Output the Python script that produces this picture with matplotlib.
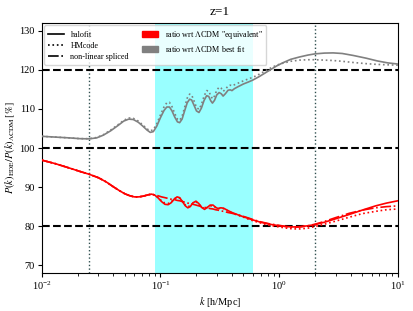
import matplotlib
matplotlib.use('Agg')
import matplotlib.pyplot as plt
from matplotlib.patches import Patch
from matplotlib.lines import Line2D
import numpy as np

# ratio wrt LCDM best fit (gray)
k_gray = [0.01, 0.013, 0.017, 0.021, 0.025, 0.029, 0.033, 0.038, 0.044, 0.049,
          0.054, 0.059, 0.065, 0.071, 0.077, 0.082, 0.087, 0.093, 0.100, 0.107,
          0.113, 0.119, 0.125, 0.132, 0.139, 0.145, 0.152, 0.160, 0.168, 0.176,
          0.183, 0.192, 0.201, 0.211, 0.221, 0.233, 0.245, 0.255, 0.265, 0.274,
          0.285, 0.298, 0.312, 0.325, 0.337, 0.352, 0.371, 0.387, 0.40, 0.42,
          0.45, 0.50, 0.55, 0.60, 0.68, 0.76, 0.85, 0.95, 1.07, 1.25,
          1.48, 1.75, 2.0, 2.4, 2.85, 3.4, 4.2, 5.4, 6.7, 8.2, 10.0]
gray_halofit = [103.0, 102.8, 102.6, 102.4, 102.35, 102.6, 103.3, 104.4, 105.8, 106.9,
                107.4, 107.3, 106.6, 105.6, 104.6, 104.0, 104.2, 105.6, 107.8, 109.6,
                110.5, 110.5, 109.5, 107.9, 106.7, 106.5, 107.4, 109.6, 111.6, 112.5,
                112.3, 110.9, 109.5, 109.1, 110.2, 112.2, 113.4, 113.2, 112.1, 111.5,
                112.2, 113.6, 114.2, 113.9, 113.3, 113.9, 114.8, 114.9, 114.7, 115.2,
                115.7, 116.4, 116.9, 117.4, 118.3, 119.2, 120.1, 121.0, 121.8, 122.7,
                123.3, 123.8, 124.1, 124.3, 124.35, 124.2, 123.7, 123.0, 122.3, 121.8, 121.5]
gray_hmcode = [103.0, 102.8, 102.6, 102.4, 102.4, 102.7, 103.4, 104.6, 106.0, 107.1,
               107.7, 107.6, 106.9, 105.9, 104.9, 104.4, 104.7, 106.2, 108.5, 110.5,
               111.6, 111.7, 110.6, 108.8, 107.4, 107.1, 108.1, 110.5, 112.8, 113.8,
               113.6, 112.0, 110.4, 109.9, 111.1, 113.3, 114.7, 114.6, 113.4, 112.6,
               113.3, 114.8, 115.6, 115.3, 114.5, 115.0, 115.9, 116.1, 115.9, 116.2,
               116.6, 117.2, 117.7, 118.1, 118.9, 119.7, 120.5, 121.2, 121.7, 122.2,
               122.5, 122.6, 122.6, 122.5, 122.4, 122.2, 121.9, 121.6, 121.4, 121.3, 121.2]

# ratio wrt LCDM "equivalent" (red)
k_red = [0.01, 0.013, 0.017, 0.021, 0.025, 0.030, 0.035, 0.040, 0.045, 0.050,
         0.055, 0.060, 0.066, 0.072, 0.078, 0.084, 0.089, 0.095, 0.102, 0.109,
         0.116, 0.123, 0.131, 0.138, 0.145, 0.153, 0.162, 0.170, 0.178, 0.188,
         0.199, 0.210, 0.222, 0.235, 0.248, 0.262, 0.277, 0.292, 0.306, 0.322,
         0.34, 0.37, 0.40, 0.45, 0.50, 0.55, 0.60, 0.70, 0.83, 1.0,
         1.15, 1.31, 1.5, 1.75, 2.0, 2.4, 3.0, 3.9, 5.0, 6.5, 8.0, 10.0]
red_halofit = [96.9, 96.0, 94.9, 94.0, 93.3, 92.4, 91.3, 90.1, 89.1, 88.3,
               87.8, 87.5, 87.5, 87.7, 88.0, 88.2, 88.0, 87.3, 86.3, 85.6,
               85.5, 86.0, 87.0, 87.5, 87.3, 86.3, 85.2, 84.7, 85.0, 86.0,
               86.4, 85.8, 84.8, 84.3, 84.8, 85.4, 85.4, 84.8, 84.5, 84.7,
               84.6, 84.0, 83.5, 82.9, 82.4, 82.0, 81.6, 81.0, 80.5, 80.1,
               79.9, 79.8, 79.9, 80.1, 80.4, 81.0, 81.9, 83.0, 84.1, 85.2, 85.9, 86.5]
red_hmcode = [96.9, 96.0, 94.9, 94.0, 93.3, 92.4, 91.3, 90.1, 89.1, 88.3,
              87.8, 87.5, 87.5, 87.7, 88.0, 88.2, 88.0, 87.4, 86.5, 85.9,
              85.8, 86.2, 87.0, 87.4, 87.2, 86.3, 85.4, 85.0, 85.2, 85.9,
              86.2, 85.7, 84.9, 84.5, 84.8, 85.2, 85.2, 84.8, 84.5, 84.6,
              84.5, 83.9, 83.4, 82.8, 82.3, 81.8, 81.4, 80.8, 80.2, 79.8,
              79.5, 79.3, 79.3, 79.5, 79.9, 80.5, 81.3, 82.3, 83.2, 83.8, 84.2, 84.4]
red_spliced = [96.9, 96.0, 94.9, 94.0, 93.3, 92.4, 91.3, 90.1, 89.1, 88.3,
               87.8, 87.5, 87.5, 87.7, 88.0, 88.2, 88.0, 87.8, 87.5, 87.3,
               87.1, 86.9, 86.8, 86.6, 86.5, 86.3, 86.1, 85.9, 85.8, 85.6,
               85.4, 85.2, 85.0, 84.8, 84.7, 84.5, 84.4, 84.2, 84.1, 83.9,
               83.8, 83.5, 83.3, 82.9, 82.5, 82.1, 81.7, 81.1, 80.6, 80.2,
               79.9, 79.7, 79.8, 80.1, 80.5, 81.2, 82.2, 83.3, 84.1, 84.7, 85.0, 85.2]

k_lines = [0.025, 2.0]
band = [0.09, 0.6]
hlines = [80, 100, 120]

plt.rcParams['font.family'] = ['Liberation Serif', 'DejaVu Serif']
plt.rcParams['mathtext.fontset'] = 'stix'
plt.rcParams['font.size'] = 7

fig = plt.figure(figsize=(4.14, 3.11), dpi=100)
ax = fig.add_axes([0.101, 0.122, 0.860, 0.804])

ax.axvspan(band[0], band[1], color='cyan', alpha=0.4, lw=0, zorder=0)
for kl in k_lines:
    ax.axvline(kl, color='darkslategray', ls=':', lw=1.0, zorder=1)
for h in hlines:
    ax.axhline(h, color='k', ls='--', lw=1.5, zorder=1)

ax.plot(k_gray, gray_halofit, color='gray', ls='-', lw=1.2, zorder=3)
ax.plot(k_gray, gray_hmcode, color='gray', ls=':', lw=1.2, zorder=3)
ax.plot(k_red, red_halofit, color='red', ls='-', lw=1.2, zorder=3)
ax.plot(k_red, red_hmcode, color='red', ls=':', lw=1.2, zorder=3)
ax.plot(k_red, red_spliced, color='red', ls='-.', lw=1.2, zorder=3)

ax.set_xscale('log')
ax.set_xlim(1e-2, 1e1)
ax.set_ylim(68, 132)
ax.set_yticks([70, 80, 90, 100, 110, 120, 130])
ax.tick_params(labelsize=7.5, pad=2, length=3)
ax.tick_params(which='minor', length=1.8)
ax.set_xlabel(r'$k$ [h/Mpc]', fontsize=7.5, labelpad=2)
ax.set_ylabel(r'$P(k)_{\rm EDE}/P(k)_{\Lambda{\rm CDM}}\,[\%]$', fontsize=7.5, labelpad=2)
ax.set_title('z=1', fontsize=9.5, pad=6)

handles = [Line2D([], [], color='k', ls='-', lw=1.2),
           Line2D([], [], color='k', ls=':', lw=1.2),
           Line2D([], [], color='k', ls='-.', lw=1.2),
           Patch(color='red'),
           Patch(color='gray')]
labels = ['halofit', 'HMcode', 'non-linear spliced',
          r'ratio wrt $\Lambda$CDM "equivalent"', r'ratio wrt $\Lambda$CDM best fit']
ax.legend(handles, labels, loc='upper left', ncol=2, fontsize=5.9,
          handlelength=2.0, handletextpad=0.8, columnspacing=1.6,
          labelspacing=0.4, borderaxespad=0.3, borderpad=0.4)

fig.savefig('out.png', dpi=100)
